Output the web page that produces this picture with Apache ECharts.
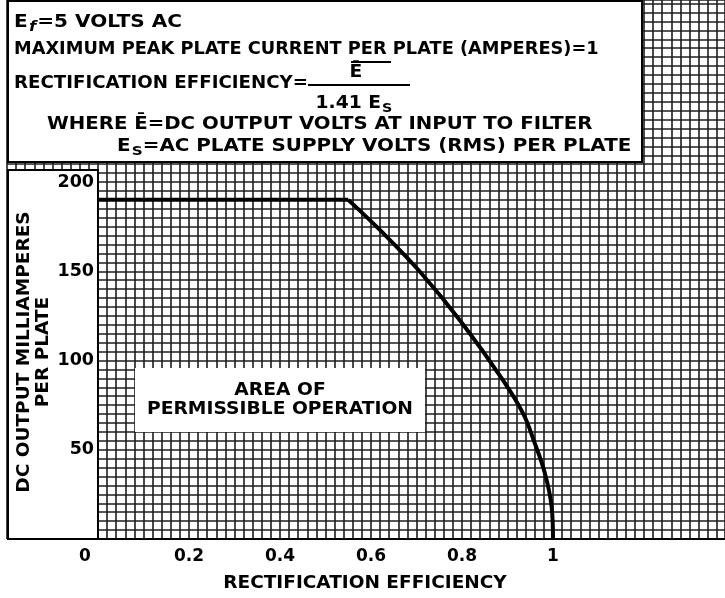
<!DOCTYPE html>
<html>
<head>
<meta charset="utf-8">
<script src="https://cdn.jsdelivr.net/npm/echarts@6/dist/echarts.min.js"></script>
<style>html,body{margin:0;padding:0;background:#fff}#c{width:725px;height:598px}</style>
</head>
<body>
<div id="c"></div>
<script>
// ---- data ----
const efficiency   = [0, 0.55];
const flatMA       = [190, 190];
const curveEff     = [0.55, 0.62, 0.71, 0.80, 0.89, 0.935, 0.958, 0.982, 0.997, 1.0];
const curveMA      = [190, 173, 149, 121, 89, 70, 55, 37, 18, 0];
const xTickLabels  = ['0', '0.2', '0.4', '0.6', '0.8', '1'];
const yTickLabels  = ['50', '100', '150', '200'];
const xTitle = 'RECTIFICATION EFFICIENCY';
const yTitle = 'DC OUTPUT MILLIAMPERES\nPER PLATE';

const FF = '"DejaVu Sans", "Liberation Sans", sans-serif';
const chart = echarts.init(document.getElementById('c'), null, {renderer: 'canvas'});

const paperLine = {show: true, lineStyle: {color: '#1c1c1c', width: 1.6}};
const rich = {
  n: {fontSize: 17, fontWeight: 'bold', fontFamily: FF, color: '#000'},
  s: {fontSize: 13, fontWeight: 'bold', fontFamily: FF, color: '#000', padding: [10, 0, 0, 1]},
  f: {fontSize: 14, fontWeight: 'bold', fontStyle: 'italic', fontFamily: FF, color: '#000', padding: [9, 1, 0, 1]}
};
function txt(x, y, text, sx, align) {
  return {type: 'text', z: 20, x: x, y: y, scaleX: sx || 1,
          style: {x: 0, y: 0, text: text, rich: rich, font: 'bold 17px ' + FF, fill: '#000',
                  verticalAlign: 'middle', align: align || 'left'}};
}

const option = {
  animation: false,
  backgroundColor: '#fff',
  grid: [
    {left: 7, right: 0, top: 0, bottom: 59, z: 0},
    {left: 98, right: 0, top: 182, bottom: 59}
  ],
  xAxis: [
    {gridIndex: 0, type: 'value', min: -0.2, max: 1.378, interval: 0.02, z: 0,
     axisLine: {show: false}, axisTick: {show: false}, axisLabel: {show: false}, splitLine: paperLine},
    {gridIndex: 1, type: 'value', min: 0, max: 1.378, interval: 0.2, z: 10,
     axisLine: {show: true, onZero: false, lineStyle: {color: '#000', width: 2}},
     axisTick: {show: false}, splitLine: {show: false},
     axisLabel: {margin: 9, showMaxLabel: false, fontSize: 17, fontWeight: 'bold', fontFamily: FF, color: '#000',
       formatter: function (v) {
         const i = Math.round(v * 5);
         if (i < 0 || i >= xTickLabels.length) return '';
         return i === 0 ? '{z|' + xTickLabels[0] + '}' : xTickLabels[i];
       },
       rich: {z: {fontSize: 17, fontWeight: 'bold', fontFamily: FF, color: '#000', padding: [0, 26, 0, 0]}}},
     name: xTitle, nameLocation: 'middle', nameGap: 35, nameMoveOverlap: false,
     nameTextStyle: {fontSize: 18.5, fontWeight: 'bold', fontFamily: FF, color: '#000', padding: [0, 93, 0, 0]}}
  ],
  yAxis: [
    {gridIndex: 0, type: 'value', min: 0, max: 302, interval: 5, z: 0,
     axisLine: {show: false}, axisTick: {show: false}, axisLabel: {show: false}, splitLine: paperLine},
    {gridIndex: 1, type: 'value', min: 0, max: 200, interval: 50, z: 10,
     axisLine: {show: true, lineStyle: {color: '#000', width: 2}},
     axisTick: {show: false}, splitLine: {show: false},
     axisLabel: {margin: 4, fontSize: 17.5, fontWeight: 'bold', fontFamily: FF, color: '#000',
       formatter: function (v) { const i = Math.round(v / 50) - 1; return i >= 0 && i < yTickLabels.length ? yTickLabels[i] : ''; }},
     name: yTitle, nameLocation: 'middle', nameGap: 45, nameRotate: 90, nameMoveOverlap: false,
     nameTextStyle: {fontSize: 18.5, fontWeight: 'bold', fontFamily: FF, color: '#000', lineHeight: 19, padding: [0, 0, 0, 17]}}
  ],
  series: [
    {type: 'line', xAxisIndex: 1, yAxisIndex: 1, z: 10, symbol: 'none',
     lineStyle: {color: '#000', width: 4},
     data: efficiency.map((x, i) => [x, flatMA[i]])},
    {type: 'line', xAxisIndex: 1, yAxisIndex: 1, z: 10, symbol: 'none', smooth: 0.4,
     lineStyle: {color: '#000', width: 4},
     data: curveEff.map((x, i) => [x, curveMA[i]])}
  ],
  graphic: [
    {type: 'rect', z: 5, shape: {x: 8, y: 1, width: 634, height: 161}, style: {fill: '#fff', stroke: '#000', lineWidth: 2}},
    {type: 'rect', z: 5, shape: {x: 8, y: 170, width: 90, height: 369}, style: {fill: '#fff', stroke: '#000', lineWidth: 2}},
    {type: 'rect', z: 5, shape: {x: 135, y: 368, width: 290, height: 64}, style: {fill: '#fff'}},
    txt(14, 23, '{n|E}{f|f}{n|=5 VOLTS AC}', 1.18),
    txt(14, 50, '{n|MAXIMUM PEAK PLATE CURRENT PER PLATE (AMPERES)=1}', 1.045),
    txt(14, 84, '{n|RECTIFICATION EFFICIENCY=}', 1.07),
    {type: 'line', z: 20, shape: {x1: 308, y1: 85, x2: 410, y2: 85}, style: {stroke: '#000', lineWidth: 2}},
    {type: 'line', z: 20, shape: {x1: 351, y1: 62, x2: 391, y2: 62}, style: {stroke: '#000', lineWidth: 2}},
    txt(356, 73, '{n|Ē}', 1.1, 'center'),
    txt(354, 104, '{n|1.41 E}{s|S}', 1.1, 'center'),
    txt(47, 125, '{n|WHERE Ē=DC OUTPUT VOLTS AT INPUT TO FILTER}', 1.16),
    txt(117, 147, '{n|E}{s|S}{n|=AC PLATE SUPPLY VOLTS (RMS) PER PLATE}', 1.17),
    {type: 'text', z: 20, x: 280, y: 391, scaleX: 1.1, style: {x: 0, y: 0, text: 'AREA OF', font: 'bold 17px ' + FF, fill: '#000', align: 'center', verticalAlign: 'middle'}},
    {type: 'text', z: 20, x: 280, y: 410, scaleX: 1.1, style: {x: 0, y: 0, text: 'PERMISSIBLE OPERATION', font: 'bold 17px ' + FF, fill: '#000', align: 'center', verticalAlign: 'middle'}}
  ]
};
chart.setOption(option);
</script>
</body>
</html>
